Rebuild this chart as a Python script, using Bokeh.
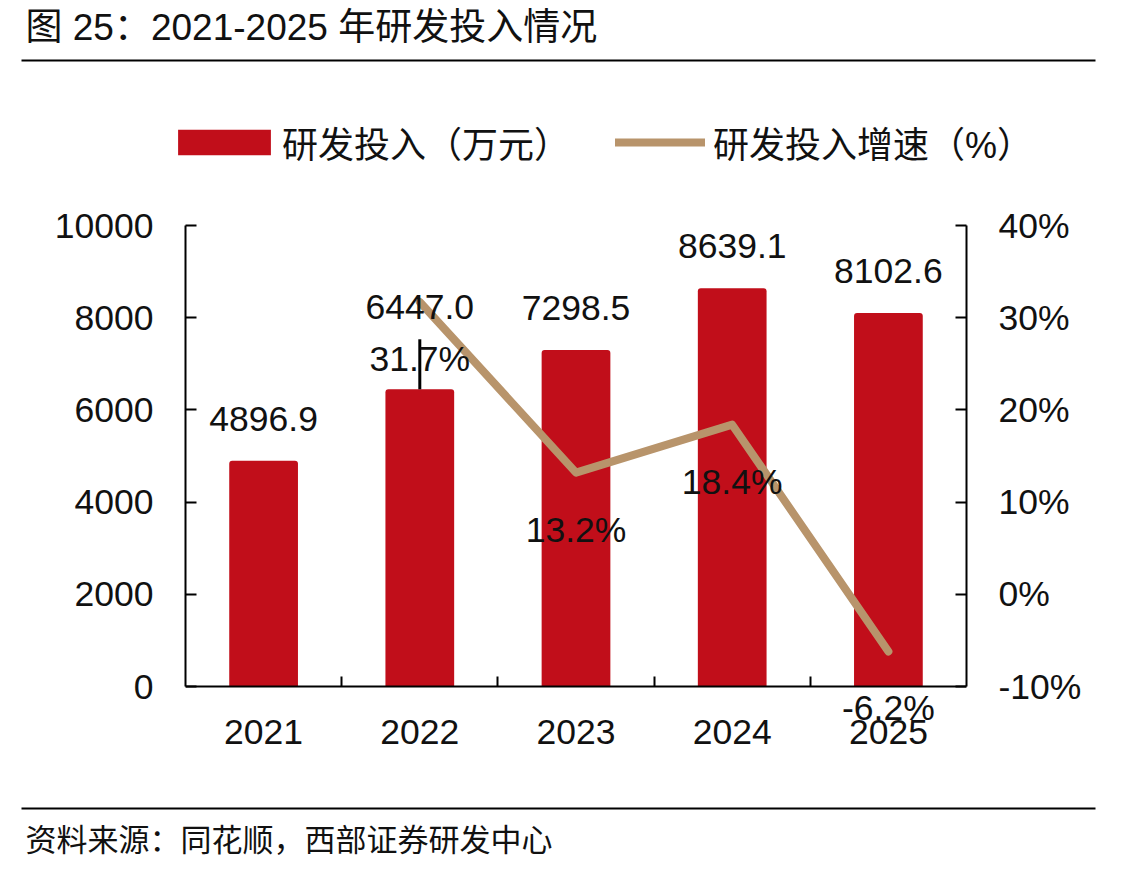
from bokeh.plotting import figure
from bokeh.layouts import column
from bokeh.models import (ColumnDataSource, LinearAxis, Range1d, FixedTicker,
                          Label, LabelSet, Legend, LegendItem)
from bokeh.core.properties import value
from bokeh.embed import file_html
from bokeh.resources import INLINE

# ---- data -------------------------------------------------------------
years = ["2021", "2022", "2023", "2024", "2025"]
rd_spend = [4896.9, 6447.0, 7298.5, 8639.1, 8102.6]          # 研发投入（万元）
growth_years = ["2022", "2023", "2024", "2025"]
rd_growth = [31.7, 13.2, 18.4, -6.2]                          # 研发投入增速（%）
spend_ticks = [0, 2000, 4000, 6000, 8000, 10000]
growth_ticks = [-10, 0, 10, 20, 30, 40]

title_text = "图 25：2021-2025 年研发投入情况"
source_text = "资料来源：同花顺，西部证券研发中心"
bar_name = "研发投入（万元）"
line_name = "研发投入增速（%）"

# ---- styling ----------------------------------------------------------
W = 1144
HEAD_H, MAIN_H, FOOT_H = 190, 600, 85
LEFT, RIGHT, TOP, BOTTOM = 185, 178, 35, 15
FRAME_H = MAIN_H - TOP - BOTTOM
AXIS_PX = 461                    # height of the 0..10000 axis span
PAD_PX = FRAME_H - AXIS_PX       # room under the x axis for its labels
RED = "#C10E1A"
TAN = "#B8946B"
INK = "#111111"
NUM_FONT = "Liberation Sans"
CJK_FONT = "Liberation Sans, Noto Sans CJK SC"
TICK_SIZE = "35.5px"
BAR_W = 0.44

xpos = [i + 1 for i in range(len(years))]
gpos = [years.index(y) + 1 for y in growth_years]

# label offsets (px above the bar top); the 2022 label sits higher with a leader
bar_label_offset = [42, 82, 42, 42, 42]
leader_px = 50


def blank_panel(h):
    """A figure whose frame is the whole canvas, y measured in px from the top."""
    f = figure(width=W, height=h, output_backend="svg", toolbar_location=None,
               x_range=Range1d(0, W), y_range=Range1d(h, 0),
               min_border=0, min_border_left=0, min_border_right=0,
               min_border_top=0, min_border_bottom=0, frame_align=False,
               outline_line_color=None, border_fill_color="white",
               background_fill_color="white")
    f.axis.visible = False
    f.grid.visible = False
    return f


# ---- header: title, rule, legend ---------------------------------------
head = blank_panel(HEAD_H)
head.add_layout(Label(x=25, y=27, text=title_text, text_baseline="middle",
                      text_font=CJK_FONT, text_font_size="37px", text_color=INK))
head.segment(x0=[21], x1=[1095], y0=[60], y1=[60], line_color="black", line_width=2)

# legend key renderers, styled like the chart's series (kept off-canvas)
bar_key = head.vbar(x=[-1000], top=[0], width=1, fill_color=RED, line_color=None)
line_key = head.line(x=[-1000, -999], y=[0, 0], line_color=TAN, line_width=8,
                     line_cap="round")
leg_common = dict(orientation="horizontal", padding=0, margin=0, spacing=0,
                  border_line_color=None, background_fill_alpha=0,
                  label_text_font=CJK_FONT, label_text_font_size="36px",
                  label_text_color=INK, glyph_height=32, label_height=32)
head.add_layout(Legend(items=[LegendItem(label=bar_name, renderers=[bar_key])],
                       location=(166, 22), glyph_width=116, label_standoff=0,
                       **leg_common), "center")
head.add_layout(Legend(items=[LegendItem(label=line_name, renderers=[line_key])],
                       location=(615, 22), glyph_width=90, label_standoff=8,
                       **leg_common), "center")

# ---- main chart ---------------------------------------------------------
bar_src = ColumnDataSource(dict(
    x=xpos, v=rd_spend, txt=[f"{v:.1f}" for v in rd_spend], off=bar_label_offset))
line_src = ColumnDataSource(dict(
    x=gpos, v=rd_growth, txt=[f"{v:.1f}%" for v in rd_growth]))

spend_lo, spend_hi = spend_ticks[0], spend_ticks[-1]
growth_lo, growth_hi = growth_ticks[0], growth_ticks[-1]
spend_per_px = (spend_hi - spend_lo) / AXIS_PX
growth_per_px = (growth_hi - growth_lo) / AXIS_PX

p = figure(width=W, height=MAIN_H, output_backend="svg", toolbar_location=None,
           x_range=Range1d(0.5, len(years) + 0.5),
           y_range=Range1d(spend_lo - PAD_PX * spend_per_px, spend_hi),
           min_border_left=LEFT, min_border_right=RIGHT,
           min_border_top=TOP, min_border_bottom=BOTTOM, frame_align=False,
           outline_line_color=None, background_fill_color="white",
           border_fill_color="white")
p.xgrid.visible = False
p.ygrid.visible = False
p.extra_y_ranges = {"pct": Range1d(growth_lo - PAD_PX * growth_per_px, growth_hi)}

p.vbar(x="x", top="v", bottom=0, width=BAR_W, source=bar_src,
       fill_color=RED, line_color=None, border_radius=[3, 3, 0, 0])

p.line(x="x", y="v", source=line_src, y_range_name="pct",
       line_color=TAN, line_width=8, line_cap="round", line_join="round")

# leader line for the lifted 2022 value label
i22 = years.index("2022")
p.segment(x0=[xpos[i22]], y0=[rd_spend[i22]], x1=[xpos[i22]],
          y1=[rd_spend[i22] + leader_px * spend_per_px],
          line_color="black", line_width=3)

p.add_layout(LabelSet(x="x", y="v", text="txt", source=bar_src, y_offset="off",
                      text_align="center", text_baseline="middle",
                      text_font=value(NUM_FONT), text_font_size=TICK_SIZE,
                      text_color=INK))
p.add_layout(LabelSet(x="x", y="v", text="txt", source=line_src, y_range_name="pct",
                      y_offset=-57, text_align="center", text_baseline="middle",
                      text_font=value(NUM_FONT), text_font_size=TICK_SIZE,
                      text_color=INK))


def style_axis(ax, tick_in, standoff):
    ax.axis_line_color = "black"
    ax.axis_line_width = 2
    ax.major_tick_line_color = "black"
    ax.major_tick_line_width = 2
    ax.minor_tick_line_color = "black"
    ax.minor_tick_line_width = 2
    ax.major_tick_in = tick_in
    ax.major_tick_out = 0
    ax.minor_tick_in = 0
    ax.minor_tick_out = 0
    ax.major_label_standoff = standoff
    ax.major_label_text_font = NUM_FONT
    ax.major_label_text_font_size = TICK_SIZE
    ax.major_label_text_color = INK


# x axis sits on the zero line: labels under each year, ticks between years
xa = p.xaxis[0]
xa.fixed_location = 0
xa.ticker = FixedTicker(ticks=xpos, minor_ticks=[x + 0.5 for x in xpos[:-1]])
xa.major_label_overrides = {x: y for x, y in zip(xpos, years)}
style_axis(xa, 0, 33)
xa.minor_tick_in = 10

ya = p.yaxis[0]
ya.ticker = FixedTicker(ticks=spend_ticks, minor_ticks=[])
ya.bounds = (spend_lo, spend_hi)
style_axis(ya, 11, 32)

ra = LinearAxis(y_range_name="pct", bounds=(growth_lo, growth_hi),
                ticker=FixedTicker(ticks=growth_ticks, minor_ticks=[]),
                major_label_overrides={t: f"{t}%" for t in growth_ticks})
style_axis(ra, 11, 32)
p.add_layout(ra, "right")

# ---- footer: rule and source note --------------------------------------
foot = blank_panel(FOOT_H)
foot.segment(x0=[21], x1=[1095], y0=[18], y1=[18], line_color="black", line_width=2)
foot.add_layout(Label(x=25, y=50, text=source_text, text_baseline="middle",
                      text_font=CJK_FONT, text_font_size="31px", text_color=INK))

page = column(head, p, foot, spacing=0)
open("out.html", "w").write(file_html(page, INLINE))
